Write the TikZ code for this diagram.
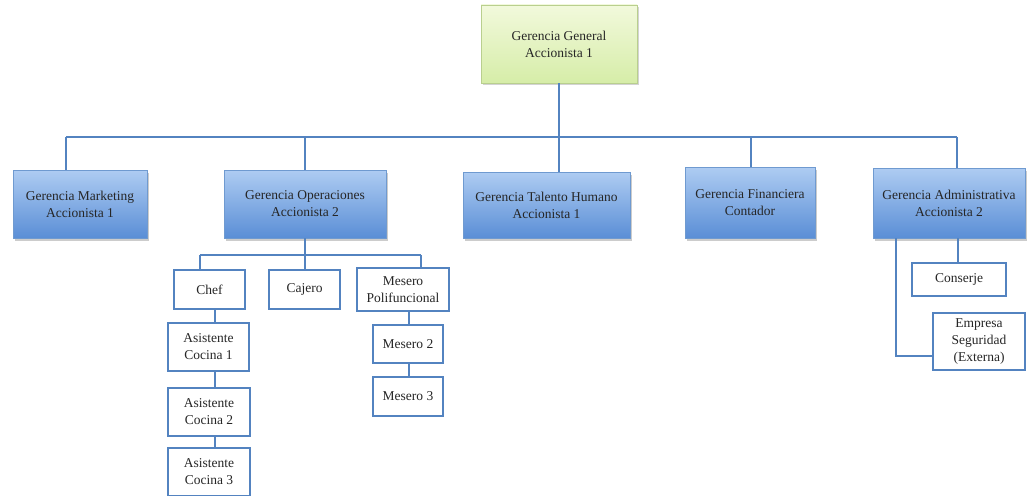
\documentclass[tikz,border=0pt]{standalone}
\usepackage{fontspec}
\setmainfont{Liberation Serif}
\usetikzlibrary{shadows}
\definecolor{lineblue}{HTML}{5383C0}
\definecolor{boxtop}{HTML}{AECCF2}
\definecolor{boxbot}{HTML}{5A8ED6}
\definecolor{boxedge}{HTML}{6F9AD0}
\definecolor{greentop}{HTML}{F2F9DC}
\definecolor{greenbot}{HTML}{D6EDA8}
\definecolor{greenedge}{HTML}{B9CF8E}
\tikzset{
  txt/.style={align=center, font=\fontsize{13.5}{17}\selectfont, inner sep=0pt, text=black!85},
  greenbox/.style={txt, draw=greenedge, line width=0.8pt, top color=greentop, bottom color=greenbot,
     drop shadow={shadow xshift=1.5pt, shadow yshift=-2pt, opacity=0.35}},
  bluebox/.style={txt, draw=boxedge, line width=0.8pt, top color=boxtop, bottom color=boxbot,
     drop shadow={shadow xshift=1.5pt, shadow yshift=-2.5pt, opacity=0.4}},
  whitebox/.style={txt, draw=lineblue, line width=2.2pt, fill=white},
  conn/.style={draw=lineblue, line width=2.8pt},
  sconn/.style={draw=lineblue, line width=2.2pt},
}
\begin{document}
\begin{tikzpicture}[x=1pt,y=-1pt]
\useasboundingbox (0,0) rectangle (1027,495);
\coordinate (b1) at (66,137);
\coordinate (b2) at (305,137);
\coordinate (b3) at (559,137);
\coordinate (b4) at (751,137);
\coordinate (b5) at (957,137);
% boxes
\node[greenbox, minimum width=156, minimum height=78] (gg) at (559,44) {Gerencia General\\Accionista 1};
\node[bluebox, minimum width=134, minimum height=68] (mkt) at (80,204) {Gerencia Marketing\\Accionista 1};
\node[bluebox, minimum width=162, minimum height=68] (ope) at (305,204) {Gerencia Operaciones\\Accionista 2};
\node[bluebox, minimum width=167, minimum height=66] (tal) at (546.5,205) {Gerencia Talento Humano\\Accionista 1};
\node[bluebox, minimum width=130, minimum height=71] (fin) at (750,202.5) {Gerencia Financiera\\Contador};
\node[bluebox, minimum width=152, minimum height=70] (adm) at (949,203) {Gerencia Administrativa\\Accionista 2};
% main connectors
\draw[conn] (gg.south) -- (b3);
\draw[conn] (b1) -- (b5);
\draw[conn] (b1) -- (b1 |- mkt.north);
\draw[conn] (b2) -- (b2 |- ope.north);
\draw[conn] (b3) -- (b3 |- tal.north);
\draw[conn] (b4) -- (b4 |- fin.north);
\draw[conn] (b5) -- (b5 |- adm.north);
% operations sub-tree
\coordinate (o1) at (200,255);
\coordinate (o2) at (305,255);
\coordinate (o3) at (421,255);
\node[whitebox, minimum width=71, minimum height=39] (chef) at (209.5,289.5) {Chef};
\node[whitebox, minimum width=71, minimum height=39] (caj) at (304.5,289.5) {Cajero};
\node[whitebox, minimum width=92, minimum height=43] (mp) at (403,289.5) {Mesero\\Polifuncional};
\node[whitebox, minimum width=81, minimum height=48] (ac1) at (208.5,347) {Asistente\\Cocina 1};
\node[whitebox, minimum width=82, minimum height=48] (ac2) at (209,412) {Asistente\\Cocina 2};
\node[whitebox, minimum width=82, minimum height=48] (ac3) at (209,472) {Asistente\\Cocina 3};
\node[whitebox, minimum width=70, minimum height=38] (m2) at (408,344) {Mesero 2};
\node[whitebox, minimum width=70, minimum height=39] (m3) at (408,396.5) {Mesero 3};
\draw[conn] (ope.south) -- (o2);
\draw[conn] (o1) -- (o3);
\draw[conn] (o1) -- (o1 |- chef.north);
\draw[conn] (o2) -- (o2 |- caj.north);
\draw[conn] (o3) -- (o3 |- mp.north);
\coordinate (k) at (215,0);
\draw[sconn] (k |- chef.south) -- (k |- ac1.north);
\draw[sconn] (k |- ac1.south) -- (k |- ac2.north);
\draw[sconn] (k |- ac2.south) -- (k |- ac3.north);
\coordinate (w) at (409,0);
\draw[sconn] (w |- mp.south) -- (w |- m2.north);
\draw[sconn] (w |- m2.south) -- (w |- m3.north);
% administrative sub-tree
\node[whitebox, minimum width=94, minimum height=33] (cons) at (959,279.5) {Conserje};
\node[whitebox, minimum width=92, minimum height=57] (emp) at (979,341.5) {Empresa\\Seguridad\\(Externa)};
\coordinate (a1) at (896,356);
\coordinate (a2) at (958,0);
\draw[conn] (adm.south -| a1) -- (a1) -- (a1 -| emp.west);
\draw[conn] (a2 |- adm.south) -- (a2 |- cons.north);
\end{tikzpicture}
\end{document}
